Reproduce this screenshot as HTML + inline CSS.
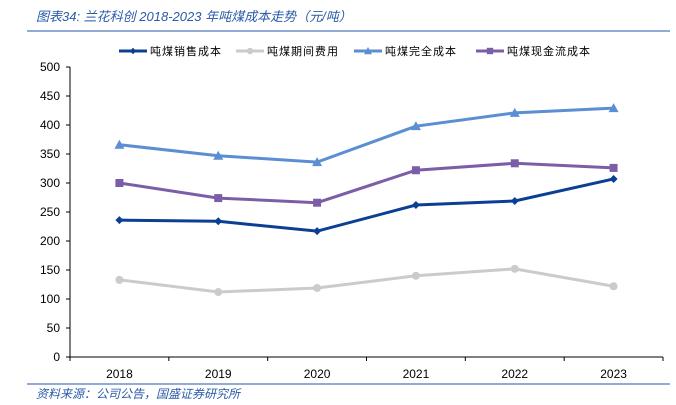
<!DOCTYPE html>
<html><head><meta charset="utf-8"><style>
body{margin:0;background:#fff;}
svg{display:block;font-family:"Liberation Sans","Noto Sans CJK SC",sans-serif;}
</style></head><body>
<svg id="c" width="676" height="405">
<text x="36" y="21" font-size="13" font-style="italic" fill="#2a5aa8">图表34:  兰花科创 2018-2023 年吨煤成本走势（元/吨）</text>
<line x1="27" y1="31" x2="670" y2="31" stroke="#6f8fc8" stroke-width="1.5"/>
<line x1="27" y1="384" x2="670" y2="384" stroke="#6f8fc8" stroke-width="1.5"/>
<text x="36" y="398" font-size="12" font-style="italic" fill="#2a5aa8">资料来源：公司公告，国盛证券研究所</text>
<g id="plot"></g>
</svg>
<script>
const categories=["2018","2019","2020","2021","2022","2023"];
const salesCost=[236,234,217,262,269,307];
const periodExpense=[133,112,119,140,152,122];
const fullCost=[366,347,336,398,421,429];
const cashCost=[300,274,266,322,334,326];
const yTicks=[0,50,100,150,200,250,300,350,400,450,500];
const seriesNames=["吨煤销售成本","吨煤期间费用","吨煤完全成本","吨煤现金流成本"];
const NS="http://www.w3.org/2000/svg";
const g=document.getElementById('plot');
const L=70,R=663,T=67,B=357,yMax=500;
const bw=(R-L)/categories.length;
const x=i=>L+bw*(i+0.5);
const y=v=>B-(v/yMax)*(B-T);
function mk(t,a,p){const e=document.createElementNS(NS,t);for(const k in a)e.setAttribute(k,a[k]);(p||g).appendChild(e);return e;}
// axes
let ax=mk('line',{x1:L,y1:T,x2:L,y2:B,stroke:'#000'});


let bx=mk('line',{x1:L,y1:B,x2:R,y2:B,stroke:'#000'});


yTicks.forEach(v=>{
 const tk=mk('line',{x1:L-4,y1:y(v),x2:L,y2:y(v),stroke:'#000'});
 
 
 const t=mk('text',{x:L-10,y:y(v)+4,'font-size':12,'text-anchor':'end',fill:'#000'});
 t.textContent=v;
 
 
});
for(let i=0;i<=categories.length;i++){
 const tk=mk('line',{x1:L+bw*i,y1:B,x2:L+bw*i,y2:B+4,stroke:'#000'});
 
 
}
categories.forEach((c,i)=>{
 const t=mk('text',{x:x(i),y:B+21,'font-size':12,'text-anchor':'middle',fill:'#000'});
 t.textContent=c;
 
 
});
const colors=['#0b3f93','#cbcbcb','#5b8ed2','#7c5ea8'];
const shapes=['diamond','circle','triangle','square'];
const data=[salesCost,periodExpense,fullCost,cashCost];
function marker(shape,cx,cy,col,p){
 if(shape==='diamond')return mk('polygon',{points:`${cx},${cy-4} ${cx+4},${cy} ${cx},${cy+4} ${cx-4},${cy}`,fill:col},p);
 if(shape==='circle')return mk('circle',{cx,cy,r:4,fill:col},p);
 if(shape==='triangle')return mk('polygon',{points:`${cx},${cy-5} ${cx+5},${cy+4} ${cx-5},${cy+4}`,fill:col},p);
 return mk('rect',{x:cx-4,y:cy-4,width:8,height:8,fill:col},p);
}
data.forEach((d,s)=>{
 const sg=mk('g',{});
 
 
 const ln=mk('polyline',{points:d.map((v,i)=>x(i)+','+y(v)).join(' '),fill:'none',stroke:colors[s],'stroke-width':3},sg);
 
 
 d.forEach((v,i)=>{
  const m=marker(shapes[s],x(i),y(v),colors[s],sg);
  
  
 });
});
// legend
const lx=[119,236,354,476];
seriesNames.forEach((n,s)=>{
 const lg=mk('g',{});
 
 
 mk('line',{x1:lx[s],y1:51,x2:lx[s]+28,y2:51,stroke:colors[s],'stroke-width':3},lg);
 marker(shapes[s],lx[s]+14,51,colors[s],lg).setAttribute('transform',`translate(${lx[s]+14},51) scale(0.8) translate(${-(lx[s]+14)},-51)`);
 const t=mk('text',{x:lx[s]+31,y:55,'font-size':11,fill:'#000','letter-spacing':'1'},lg);
 t.textContent=n;
});
</script>
</body></html>
